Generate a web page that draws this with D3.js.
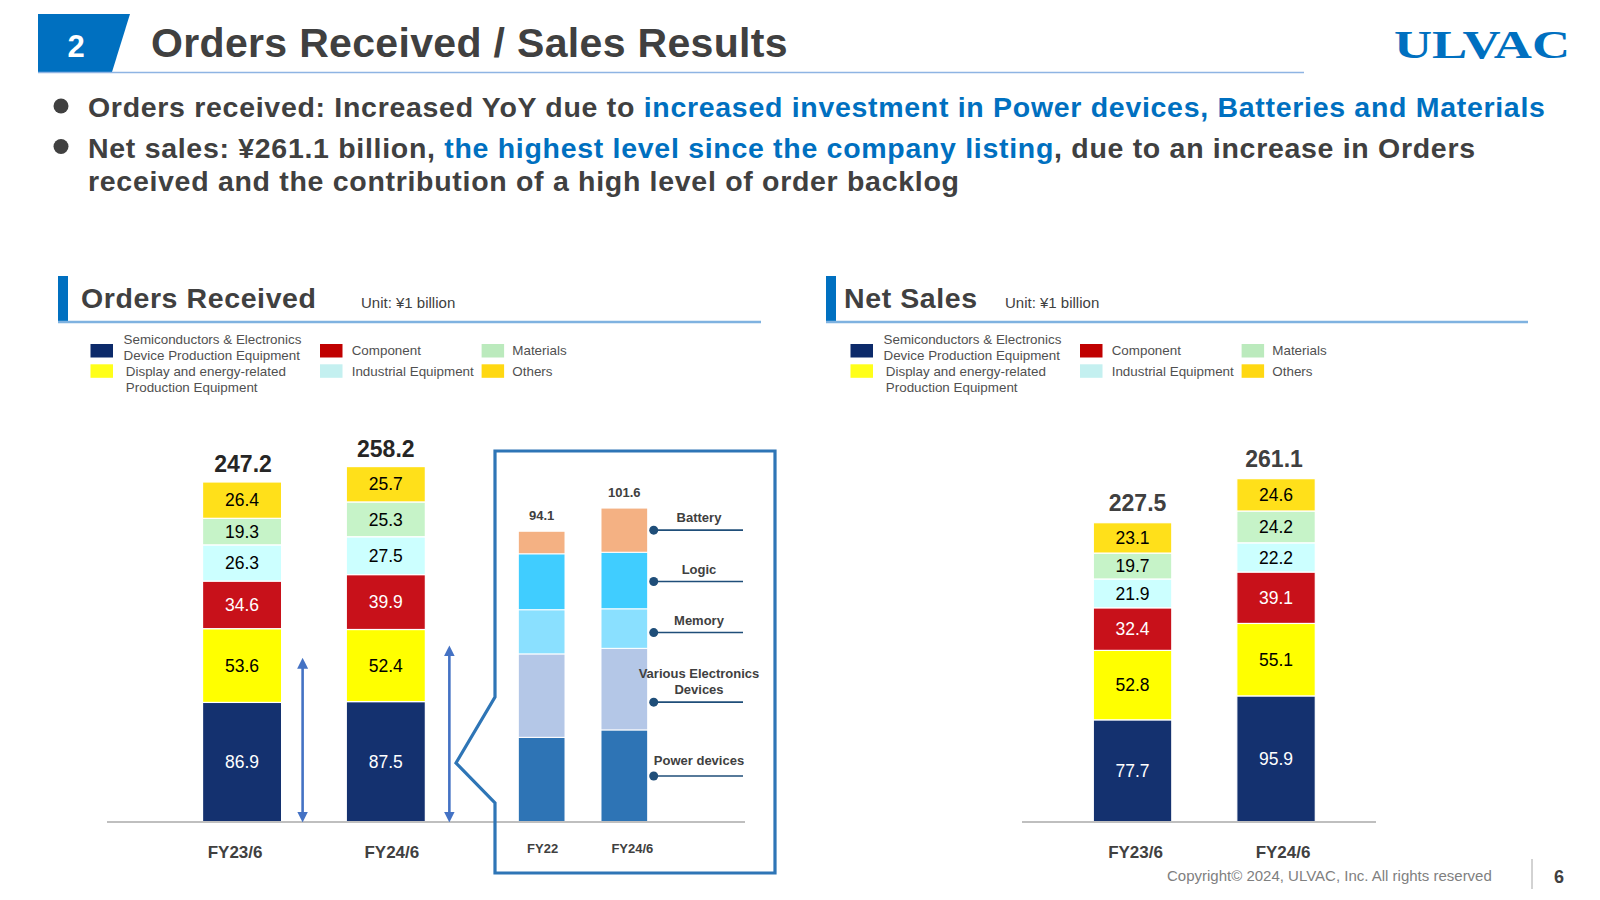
<!DOCTYPE html>
<html><head><meta charset="utf-8">
<script src="https://cdn.jsdelivr.net/npm/d3@7"></script>
<style>
body{margin:0;background:#fff}
svg{display:block}
text{font-family:"Liberation Sans",Arial,Helvetica,sans-serif}
</style>
</head><body>
<svg id="c" width="1600" height="900"></svg>
<script>
// ---------------- DATA ----------------
const categories = ["FY23/6", "FY24/6"];
const segmentKeys = ["semicon", "display", "component", "industrial", "materials", "others"];
const segmentLabels = [
  ["Semiconductors & Electronics", "Device Production Equipment"],
  ["Display and energy-related", "Production Equipment"],
  ["Component"],
  ["Industrial Equipment"],
  ["Materials"],
  ["Others"]
];
const segmentColors = ["#14316f", "#ffff00", "#c8111a", "#ccffff", "#c6f3c8", "#ffe01a"];
const legendColors = ["#0c2a6a", "#ffff19", "#c00000", "#c4f0f0", "#bbeabd", "#ffd812"];
const segmentTextColors = ["#ffffff", "#000000", "#ffffff", "#000000", "#000000", "#000000"];

const ordersSemicon = [86.9, 87.5];
const ordersDisplay = [53.6, 52.4];
const ordersComponent = [34.6, 39.9];
const ordersIndustrial = [26.3, 27.5];
const ordersMaterials = [19.3, 25.3];
const ordersOthers = [26.4, 25.7];
const ordersTotals = [247.2, 258.2];

const salesSemicon = [77.7, 95.9];
const salesDisplay = [52.8, 55.1];
const salesComponent = [32.4, 39.1];
const salesIndustrial = [21.9, 22.2];
const salesMaterials = [19.7, 24.2];
const salesOthers = [23.1, 24.6];
const salesTotals = [227.5, 261.1];

// arrows beside the orders bars (extent, ¥ billion)
const arrowSpans = [119, 128];

// inset: breakdown of semiconductor & electronics orders
const insetCategories = ["FY22", "FY24/6"];
const insetKeys = ["power", "various", "memory", "logic", "battery"];
const insetLabels = [["Power devices"], ["Various Electronics", "Devices"], ["Memory"], ["Logic"], ["Battery"]];
const insetColors = ["#2e74b5", "#b4c7e7", "#8ae0ff", "#40cdff", "#f4b183"];
const insetPower = [27.4, 29.8];
const insetVarious = [27.0, 26.4];
const insetMemory = [14.3, 12.8];
const insetLogic = [18.1, 18.3];
const insetBattery = [7.3, 14.3];
const insetTotals = [94.1, 101.6];

// ---------------- DRAW ----------------
const svg = d3.select("#c");
const DARK = "#404040";

// header
svg.append("polygon").attr("points", "38,14 130,14 112,72 38,72").attr("fill", "#0070c0");
svg.append("text").attr("x", 76).attr("y", 57).attr("text-anchor", "middle")
  .attr("font-size", 31).attr("font-weight", "bold").attr("fill", "#fff").text("2");
svg.append("text").attr("x", 151).attr("y", 57).attr("font-size", 41).attr("font-weight", "bold")
  .attr("letter-spacing", 0.33).attr("fill", DARK).text("Orders Received / Sales Results");
svg.append("line").attr("x1", 38).attr("x2", 1304).attr("y1", 72.5).attr("y2", 72.5)
  .attr("stroke", "#8eb4e3").attr("stroke-width", 1.5);
svg.append("text").attr("x", 1394).attr("y", 58).attr("font-size", 40).attr("font-weight", "bold")
  .attr("fill", "#0070c0").attr("textLength", 176).attr("lengthAdjust", "spacingAndGlyphs")
  .style("font-family", "'Liberation Serif','Times New Roman',serif").text("ULVAC");

// bullets
const bullets = [
  {y: 117, parts: [["Orders received: Increased YoY due to ", DARK], ["increased investment in Power devices, Batteries and Materials", "#0070c0"]]},
  {y: 157.5, parts: [["Net sales: ¥261.1 billion, ", DARK], ["the highest level since the company listing", "#0070c0"], [", due to an increase in Orders", DARK]]},
  {y: 190.5, parts: [["received and the contribution of a high level of order backlog", DARK]], noDot: true}
];
bullets.forEach(b => {
  if (!b.noDot) svg.append("circle").attr("cx", 61).attr("cy", b.y - 11).attr("r", 7.5).attr("fill", DARK);
  const t = svg.append("text").attr("x", 88).attr("y", b.y).attr("font-size", 28.5).attr("font-weight", "bold")
    .attr("letter-spacing", 0.7);
  b.parts.forEach(p => t.append("tspan").attr("fill", p[1]).text(p[0]));
});

// section header + legend
function section(ox, titleX, title, unitX, lineEnd, legendOx) {
  svg.append("rect").attr("x", 58 + ox).attr("y", 276).attr("width", 10).attr("height", 46).attr("fill", "#0070c0");
  svg.append("text").attr("x", titleX).attr("y", 307.5).attr("font-size", 28.5).attr("font-weight", "bold")
    .attr("letter-spacing", 0.6).attr("fill", DARK).text(title);
  svg.append("text").attr("x", unitX).attr("y", 308).attr("font-size", 15).attr("fill", DARK).text("Unit: ¥1 billion");
  svg.append("line").attr("x1", 58 + ox).attr("x2", lineEnd).attr("y1", 322).attr("y2", 322)
    .attr("stroke", "#7fb2e0").attr("stroke-width", 2.5);
  const pos = [
    {sx: 90.5, sy: 344, tx: 123.5, ty: [344, 360.4]},
    {sx: 90.5, sy: 364.3, tx: 125.8, ty: [375.7, 392]},
    {sx: 320, sy: 344, tx: 351.7, ty: [355.4]},
    {sx: 320, sy: 364.3, tx: 351.7, ty: [375.7]},
    {sx: 481.6, sy: 344, tx: 512.3, ty: [355.4]},
    {sx: 481.6, sy: 364.3, tx: 512.3, ty: [375.7]}
  ];
  const lg = svg.append("g").attr("transform", `translate(${legendOx},0)`);
  segmentKeys.forEach((k, i) => {
    const p = pos[i];
    lg.append("rect").attr("x", p.sx).attr("y", p.sy).attr("width", 22.5).attr("height", 13.5).attr("fill", legendColors[i]);
    segmentLabels[i].forEach((line, j) => {
      lg.append("text").attr("x", p.tx).attr("y", p.ty[j]).attr("font-size", 13.4).attr("fill", "#505050").text(line);
    });
  });
}
section(0, 81, "Orders Received", 361, 761, 0);
section(768, 844, "Net Sales", 1005, 1528, 760);

// stacked bar chart helper
function stackedChart(series, totals, x, y, opts) {
  const table = categories.map((c, i) => {
    const row = {cat: c};
    segmentKeys.forEach((k, j) => row[k] = series[j][i]);
    return row;
  });
  const layers = d3.stack().keys(segmentKeys)(table);
  const g = svg.append("g");
  layers.forEach((layer, li) => {
    g.selectAll(null).data(layer).join("rect")
      .attr("x", d => x(d.data.cat)).attr("width", x.bandwidth())
      .attr("y", d => y(d[1])).attr("height", d => y(d[0]) - y(d[1]))
      .attr("fill", segmentColors[li]).attr("stroke", "#ffffff").attr("stroke-width", 1.2);
    g.selectAll(null).data(layer).join("text")
      .attr("x", d => x(d.data.cat) + x.bandwidth() / 2)
      .attr("y", d => (y(d[0]) + y(d[1])) / 2 + 6.2)
      .attr("text-anchor", "middle").attr("font-size", 17.5).attr("fill", segmentTextColors[li])
      .text(d => d3.format(".1f")(d[1] - d[0]));
  });
  g.selectAll(null).data(categories).join("text")
    .attr("x", (d, i) => x(d) + x.bandwidth() / 2 + opts.totalDx[i])
    .attr("y", (d, i) => y(d3.sum(series, s => s[i])) - opts.totalGap)
    .attr("text-anchor", "middle").attr("font-size", 23).attr("font-weight", "bold").attr("fill", opts.totalColor)
    .text((d, i) => d3.format(".1f")(totals[i]));
  g.append("line").attr("x1", opts.axisFrom).attr("x2", opts.axisTo).attr("y1", y(0)).attr("y2", y(0))
    .attr("stroke", "#bfbfbf").attr("stroke-width", 2);
  g.selectAll(null).data(categories).join("text")
    .attr("x", (d, i) => x(d) + x.bandwidth() / 2 + opts.catDx[i])
    .attr("y", y(0) + 36)
    .attr("text-anchor", "middle").attr("font-size", 17).attr("font-weight", "bold").attr("fill", DARK)
    .text(d => d);
}

const baseY = 822;
const yOrders = d3.scaleLinear().domain([0, 250]).range([baseY, baseY - 344]);
const xOrders = d3.scaleBand().domain(categories).range([170.2, 457.7]).paddingInner(0.45).paddingOuter(0.225);
stackedChart([ordersSemicon, ordersDisplay, ordersComponent, ordersIndustrial, ordersMaterials, ordersOthers],
  ordersTotals, xOrders, yOrders, {totalGap: 10, totalColor: "#262626", axisFrom: 107, axisTo: 745, totalDx: [1, 0], catDx: [-7, 6]});

const ySales = d3.scaleLinear().domain([0, 250]).range([baseY, baseY - 328.75]);
const xSales = d3.scaleBand().domain(categories).range([1060.8, 1347.8]).paddingInner(0.453).paddingOuter(0.2265);
stackedChart([salesSemicon, salesDisplay, salesComponent, salesIndustrial, salesMaterials, salesOthers],
  salesTotals, xSales, ySales, {totalGap: 12, totalColor: DARK, axisFrom: 1022, axisTo: 1376, totalDx: [5, -2], catDx: [3, 7]});

// double-headed arrows
const arrowColor = "#4472c4";
const arrowDx = [21, 24];
const defs = svg.append("defs");
["s", "e"].forEach(id => {
  defs.append("marker").attr("id", "ah" + id).attr("viewBox", "0 0 10 10").attr("refX", 5).attr("refY", 5)
    .attr("markerWidth", 4.2).attr("markerHeight", 4.2).attr("orient", id === "s" ? "auto-start-reverse" : "auto")
    .append("path").attr("d", "M0,0 L10,5 L0,10 z").attr("fill", arrowColor);
});
svg.selectAll(null).data(categories).join("line")
  .attr("x1", (d, i) => xOrders(d) + xOrders.bandwidth() + arrowDx[i])
  .attr("x2", (d, i) => xOrders(d) + xOrders.bandwidth() + arrowDx[i])
  .attr("y1", baseY - 5).attr("y2", (d, i) => yOrders(arrowSpans[i]) + 5)
  .attr("stroke", arrowColor).attr("stroke-width", 2.6)
  .attr("marker-start", "url(#ahs)").attr("marker-end", "url(#ahe)");

// inset box with pointer
svg.append("path")
  .attr("d", "M495,697 L495,451 L775,451 L775,873 L495,873 L495,803 L456,763 Z")
  .attr("fill", "none").attr("stroke", "#2e75b6").attr("stroke-width", 3.2).attr("stroke-linejoin", "miter");

// inset chart
const yInset = d3.scaleLinear().domain([0, 100]).range([baseY, baseY - 309]);
const xInset = d3.scaleBand().domain(insetCategories).range([500.3, 665.7]).paddingInner(0.435).paddingOuter(0.2175);
const insetSeries = [insetPower, insetVarious, insetMemory, insetLogic, insetBattery];
const insetTable = insetCategories.map((c, i) => {
  const r = {cat: c};
  insetKeys.forEach((k, j) => r[k] = insetSeries[j][i]);
  return r;
});
const insetLayers = d3.stack().keys(insetKeys)(insetTable);
const ig = svg.append("g");
insetLayers.forEach((layer, li) => {
  ig.selectAll(null).data(layer).join("rect")
    .attr("x", d => xInset(d.data.cat)).attr("width", xInset.bandwidth())
    .attr("y", d => yInset(d[1])).attr("height", d => yInset(d[0]) - yInset(d[1]))
    .attr("fill", insetColors[li]).attr("stroke", "#fff").attr("stroke-width", 1);
});
ig.selectAll(null).data(insetCategories).join("text")
  .attr("x", d => xInset(d) + xInset.bandwidth() / 2)
  .attr("y", (d, i) => yInset(d3.sum(insetSeries, s => s[i])) - 11)
  .attr("text-anchor", "middle").attr("font-size", 13).attr("font-weight", "bold").attr("fill", DARK)
  .text((d, i) => d3.format(".1f")(insetTotals[i]));
ig.append("line").attr("x1", 497).attr("x2", 745).attr("y1", baseY).attr("y2", baseY)
  .attr("stroke", "#bfbfbf").attr("stroke-width", 2);
const insetCatDx = [1, 8];
ig.selectAll(null).data(insetCategories).join("text")
  .attr("x", (d, i) => xInset(d) + xInset.bandwidth() / 2 + insetCatDx[i])
  .attr("y", baseY + 31)
  .attr("text-anchor", "middle").attr("font-size", 13).attr("font-weight", "bold").attr("fill", DARK)
  .text(d => d);

// inset labels pointing at FY24/6 segments
const lastLayerX = xInset(insetCategories[1]) + xInset.bandwidth() + 6;
const labelShift = [0, 13, 4, 1, 0];
const labelGap = [11, 8, 8, 8, 8];
insetLayers.forEach((layer, li) => {
  const d = layer[1];
  const cy = (yInset(d[0]) + yInset(d[1])) / 2 + labelShift[li];
  ig.append("line").attr("x1", lastLayerX).attr("x2", 743).attr("y1", cy).attr("y2", cy)
    .attr("stroke", "#1f4e79").attr("stroke-width", 1.6);
  ig.append("circle").attr("cx", lastLayerX).attr("cy", cy).attr("r", 4.5).attr("fill", "#1f4e79");
  const lines = insetLabels[li];
  lines.forEach((t, j) => {
    ig.append("text").attr("x", 699).attr("y", cy - labelGap[li] - (lines.length - 1 - j) * 16.3)
      .attr("text-anchor", "middle").attr("font-size", 13).attr("font-weight", "bold").attr("fill", DARK).text(t);
  });
});

// footer
svg.append("text").attr("x", 1167).attr("y", 881).attr("font-size", 15).attr("fill", "#808080")
  .text("Copyright© 2024, ULVAC, Inc. All rights reserved");
svg.append("line").attr("x1", 1532).attr("x2", 1532).attr("y1", 859).attr("y2", 889)
  .attr("stroke", "#a6a6a6").attr("stroke-width", 1);
svg.append("text").attr("x", 1559).attr("y", 882.5).attr("text-anchor", "middle").attr("font-size", 18)
  .attr("font-weight", "bold").attr("fill", DARK).text("6");
</script>
</body></html>
